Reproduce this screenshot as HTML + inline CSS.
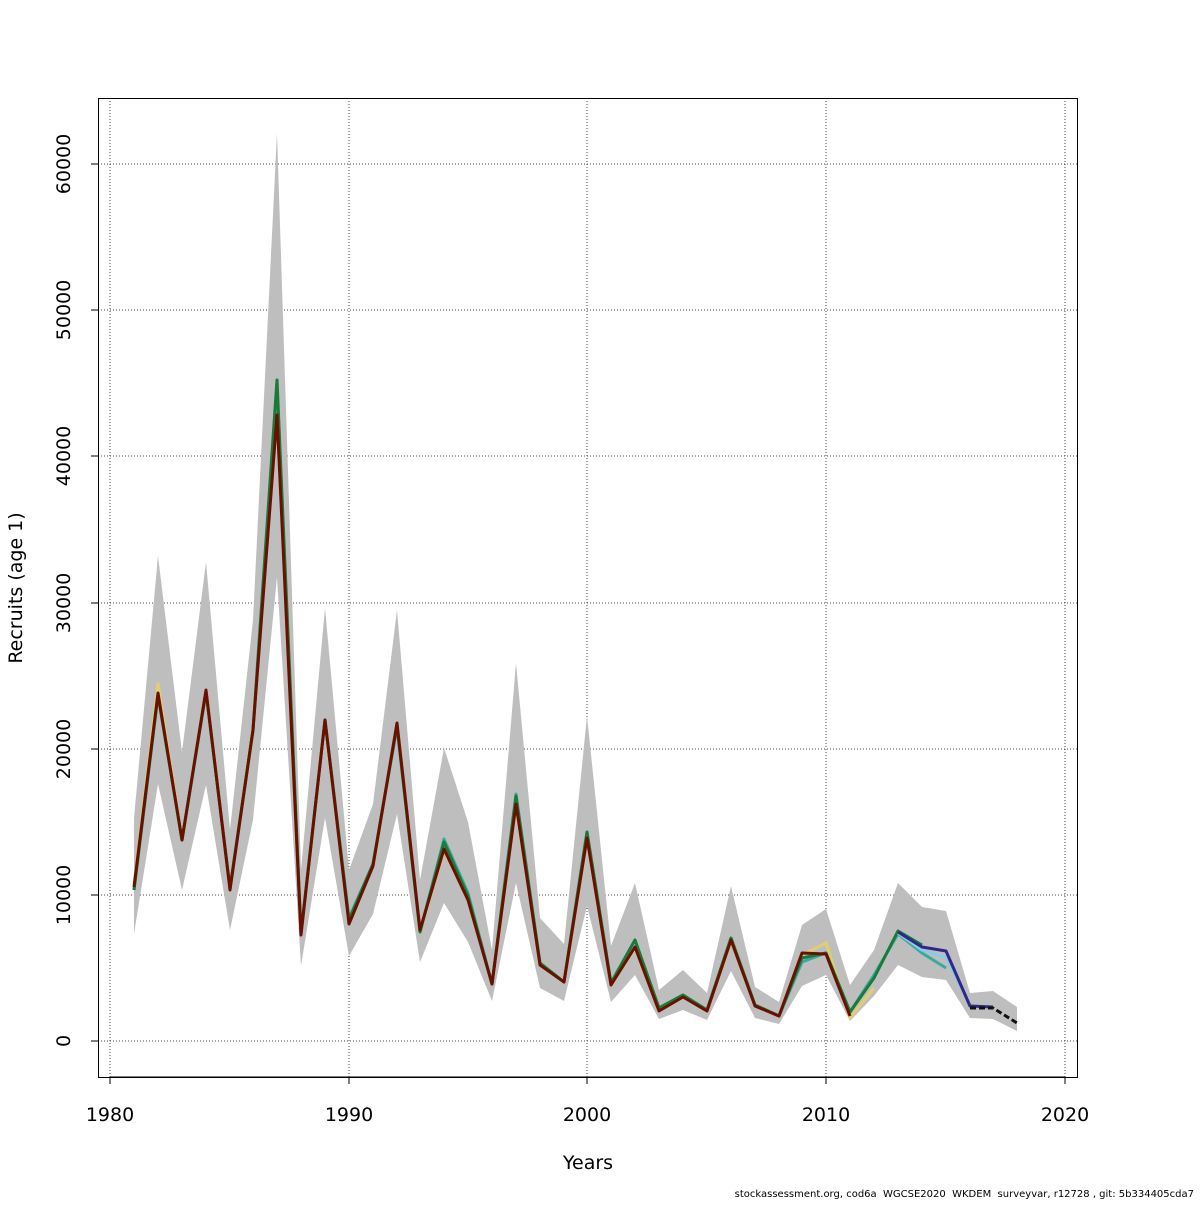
<!DOCTYPE html><html><head><style>body{margin:0;background:#fff}</style></head><body>
<svg width="1200" height="1200" xmlns="http://www.w3.org/2000/svg" font-family="DejaVu Sans, Liberation Sans, sans-serif">
<rect width="1200" height="1200" fill="#fff"/>
<g stroke="#444" stroke-dasharray="1,2" stroke-width="1">
<line x1="110" y1="98" x2="110" y2="1077"/><line x1="349" y1="98" x2="349" y2="1077"/><line x1="587" y1="98" x2="587" y2="1077"/><line x1="826" y1="98" x2="826" y2="1077"/><line x1="1065" y1="98" x2="1065" y2="1077"/>
<line x1="98" y1="1041" x2="1077" y2="1041"/><line x1="98" y1="895" x2="1077" y2="895"/><line x1="98" y1="749" x2="1077" y2="749"/><line x1="98" y1="603" x2="1077" y2="603"/><line x1="98" y1="456" x2="1077" y2="456"/><line x1="98" y1="310" x2="1077" y2="310"/><line x1="98" y1="164" x2="1077" y2="164"/>
</g>
<polygon fill="#bebebe" points="134,818 158,556 182,752 206,562 230,830 253,620 277,133 301,870 325,608 349,870 373,804 397,610 420,880 444,748 468,822 492,950 516,663 540,918 564,944 587,716 611,946 635,883 659,990 683,970 707,993 731,886 755,987 779,1002 802,925 826,909 850,985 874,950 898,883 922,907 946,911 970,993 993,991 1017,1007 1017,1031 993,1019 970,1018 946,980 922,977 898,965 874,996 850,1021 826,975 802,986 779,1024 755,1018 731,971 707,1020 683,1010 659,1019 635,975 611,1002 587,906 564,1001 540,988 516,883 492,1001 468,942 444,903 420,962 397,814 373,914 349,956 325,818 301,966 277,577 253,820 230,930 206,785 182,890 158,784 134,934"/>
<g fill="none" stroke-width="3" stroke-linejoin="round">
<polyline stroke="#e0cf70" points="134,885 158,684 182,840 206,690 230,888 253,728 277,405 301,933 325,722 349,922 373,866 397,725 420,932 444,850 468,900 492,984 516,806 540,965 564,982 587,840 611,985 635,948 659,1011 683,997 707,1011 731,941 755,1006 779,1016 802,955 826,943 850,1018 874,988"/>
<polyline stroke="#3aaaa0" points="134,890 158,695 182,840 206,692 230,888 253,730 277,400 301,933 325,720 349,918 373,864 397,726 420,932 444,839 468,893 492,984 516,794 540,963 564,982 587,832 611,983 635,940 659,1008 683,995 707,1010 731,938 755,1005 779,1016 802,962 826,953 850,1012 874,975 898,934 922,953 946,968"/>
<polyline stroke="#1a7a3a" points="134,890 158,695 182,840 206,692 230,888 253,730 277,380 301,933 325,720 349,920 373,864 397,726 420,932 444,842 468,896 492,984 516,796 540,963 564,982 587,832 611,983 635,940 659,1008 683,995 707,1010 731,938 755,1005 779,1016 802,958 826,953 850,1012 874,978 898,931 922,945"/>
<polyline stroke="#8cc8e8" points="898,933 922,950 946,958 970,1005"/>
<polyline stroke="#302888" points="898,932 922,947 946,951 970,1006 993,1007"/>
<polyline stroke="#6a1000" points="134,887 158,693 182,840 206,690 230,890 253,730 277,415 301,935 325,720 349,924 373,866 397,723 420,930 444,849 468,900 492,984 516,804 540,965 564,982 587,838 611,985 635,947 659,1011 683,997 707,1011 731,940 755,1006 779,1016 802,953 826,954 850,1016"/>
<polyline stroke="#111" stroke-dasharray="6,3" points="970,1008 993,1008 1017,1023"/>
</g>
<rect x="98.5" y="98.5" width="979" height="979" fill="none" stroke="#000"/>
<g stroke="#000"><line x1="110" y1="1077" x2="1065" y2="1077"/>
<line x1="110" y1="1077" x2="110" y2="1084"/><line x1="349" y1="1077" x2="349" y2="1084"/><line x1="587" y1="1077" x2="587" y2="1084"/><line x1="826" y1="1077" x2="826" y2="1084"/><line x1="1065" y1="1077" x2="1065" y2="1084"/>
<line x1="91" y1="164" x2="98" y2="164"/><line x1="91" y1="310" x2="98" y2="310"/><line x1="91" y1="456" x2="98" y2="456"/><line x1="91" y1="603" x2="98" y2="603"/><line x1="91" y1="749" x2="98" y2="749"/><line x1="91" y1="895" x2="98" y2="895"/><line x1="91" y1="1041" x2="98" y2="1041"/></g>
<g font-size="19" text-anchor="middle">
<text x="110" y="1121">1980</text><text x="349" y="1121">1990</text><text x="587" y="1121">2000</text><text x="826" y="1121">2010</text><text x="1065" y="1121">2020</text>
<text transform="translate(70,1041) rotate(-90)">0</text><text transform="translate(70,895) rotate(-90)">10000</text><text transform="translate(70,749) rotate(-90)">20000</text><text transform="translate(70,603) rotate(-90)">30000</text><text transform="translate(70,456) rotate(-90)">40000</text><text transform="translate(70,310) rotate(-90)">50000</text><text transform="translate(70,164) rotate(-90)">60000</text>
<text x="588" y="1169">Years</text>
<text transform="translate(22,588) rotate(-90)">Recruits (age 1)</text>
</g>
<text x="1194" y="1197" font-size="10" text-anchor="end" xml:space="preserve">stockassessment.org, cod6a  WGCSE2020  WKDEM  surveyvar, r12728 , git: 5b334405cda7</text>
</svg></body></html>
